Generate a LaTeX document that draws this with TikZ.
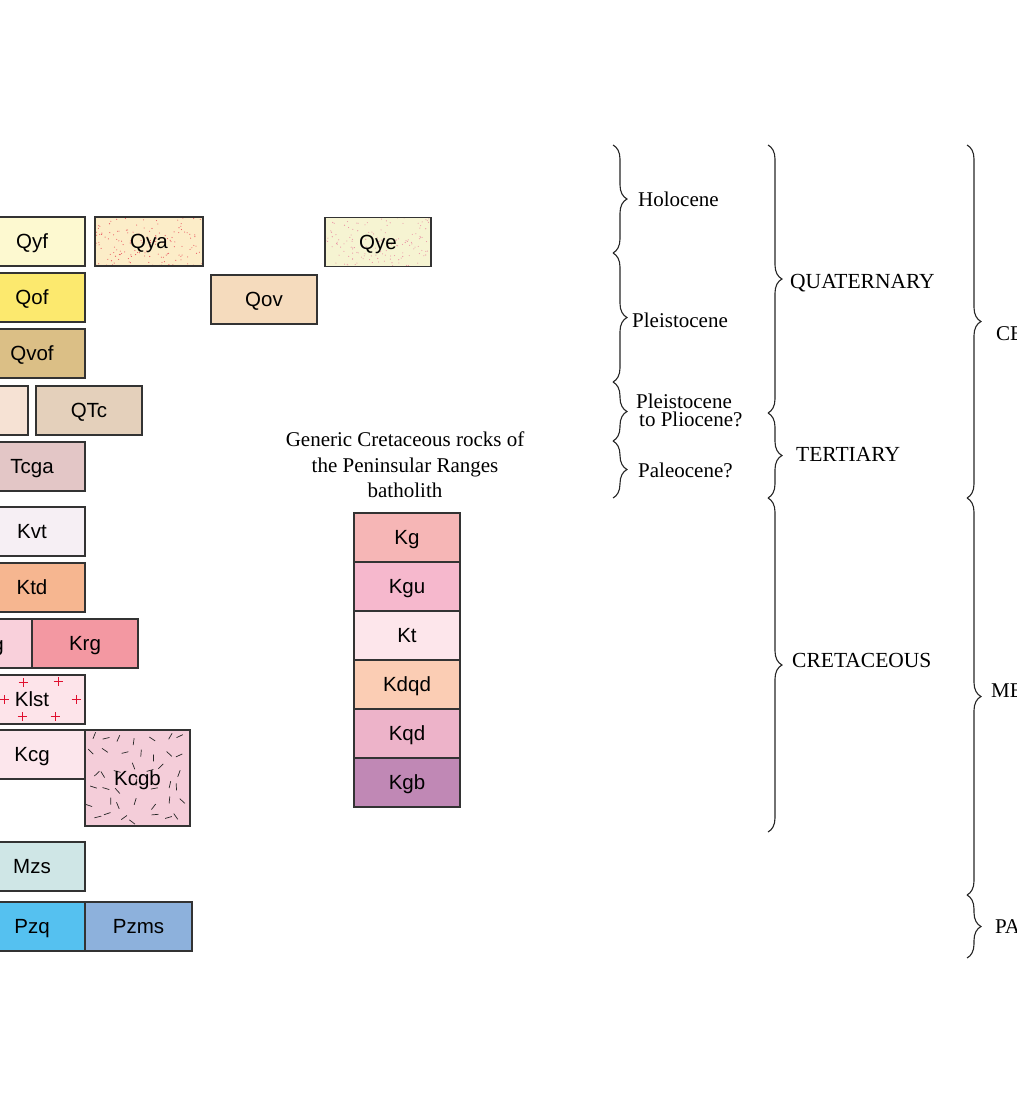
\documentclass[tikz,border=0pt]{standalone}
\usepackage{fontspec}
\setmainfont{Liberation Serif}
\setsansfont{Liberation Sans}
\usepackage{tikz}
\usetikzlibrary{positioning,calc,decorations.pathreplacing}

\definecolor{qyffill}{HTML}{FDF9D0}
\definecolor{qyafill}{HTML}{FCEDC8}
\definecolor{qyefill}{HTML}{F6F4D2}
\definecolor{qoffill}{HTML}{FCE96E}
\definecolor{qovfill}{HTML}{F5DBBD}
\definecolor{qvoffill}{HTML}{DBBF86}
\definecolor{qoafill}{HTML}{F6E2D4}
\definecolor{qtcfill}{HTML}{E4D0BB}
\definecolor{tcgafill}{HTML}{E3C6C6}
\definecolor{kvtfill}{HTML}{F6EFF4}
\definecolor{ktdfill}{HTML}{F6B690}
\definecolor{kpfill}{HTML}{F9D0DB}
\definecolor{krgfill}{HTML}{F398A2}
\definecolor{klstfill}{HTML}{FDE4EA}
\definecolor{kcgfill}{HTML}{FCE6EC}
\definecolor{kcgbfill}{HTML}{F4CDD9}
\definecolor{mzsfill}{HTML}{CFE6E6}
\definecolor{pzqfill}{HTML}{55C1F0}
\definecolor{pzmsfill}{HTML}{8DB1DC}
\definecolor{kgfill}{HTML}{F6B6B6}
\definecolor{kgufill}{HTML}{F6B8CD}
\definecolor{ktfill}{HTML}{FDE6EB}
\definecolor{kdqdfill}{HTML}{FBCDB4}
\definecolor{kqdfill}{HTML}{EDB3C9}
\definecolor{kgbfill}{HTML}{C088B5}
\definecolor{dotred}{HTML}{E8545E}
\definecolor{dotpink}{HTML}{EA8FA3}
\definecolor{plusred}{HTML}{E0102F}

\begin{document}
\begin{tikzpicture}[
    x=1pt, y=1pt,
    node distance=0pt,
    rockbox/.style={rectangle, draw=black!80, line width=1.1pt, outer sep=0pt, inner sep=0pt, minimum width=106pt, minimum height=49pt, text height=14.5pt, text depth=0pt, text centered, font=\sffamily\fontsize{20.5}{24}\selectfont},
    agelabel/.style={inner sep=0pt, anchor=base west, font=\fontsize{21}{24}\selectfont},
    agebrace/.style={decorate, decoration={brace, amplitude=14pt}, line width=1.1pt, draw=black!85},
    stipple/.style={path picture={
        \foreach \k in {1,...,150}
            \fill[#1] ($(path picture bounding box.south west)+(108*rnd,49*rnd)$) circle (0.55);
    }},
    crosses/.style={path picture={
        \foreach \cx/\cy in {-9/17.5, 26/18.5, -28/0.5, 44/0.5, -10/-16.5, 23/-16.5}
            \draw[plusred, line width=0.8pt] ($(path picture bounding box.center)+(\cx,\cy)$) +(-4.5,0) -- +(4.5,0) +(0,-4.5) -- +(0,4.5);
    }},
    ticks/.style={path picture={
        \foreach \i in {0,...,6}
            \foreach \j in {0,...,5}{
                \pgfmathsetmacro{\px}{8+14.5*\i+5*rand}
                \pgfmathsetmacro{\py}{8+16*\j+5*rand}
                \pgfmathsetmacro{\pa}{180*rnd}
                \draw[black!85, line width=0.7pt] ($(path picture bounding box.south west)+(\px,\py)$) ++(\pa+180:3.5) -- ++(\pa:7);
            }
    }}
]
    \pgfmathsetseed{11}
    \useasboundingbox (0,0) rectangle (1017,-1109);
    \clip (0,0) rectangle (1017,-1109);

    % map units, left side
    \node[rockbox, fill=qyffill] (qyf) at (32,-241.5) {Qyf};
    \node[rockbox, fill=qyafill, minimum width=108pt, stipple=dotred] (qya) at (149,-241.5) {Qya};
    \node[rockbox, fill=qyefill, stipple=dotpink] (qye) at (378,-242) {Qye};
    \node[rockbox, fill=qoffill] (qof) at (32,-297.5) {Qof};
    \node[rockbox, fill=qovfill] (qov) at (264,-299.5) {Qov};
    \node[rockbox, fill=qvoffill] (qvof) at (32,-353.5) {Qvof};
    \node[rockbox, fill=qoafill] (qoa) at (-25,-410.5) {};
    \node[rockbox, fill=qtcfill] (qtc) at (89,-410.5) {QTc};
    \node[rockbox, fill=tcgafill] (tcga) at (32,-466.5) {Tcga};
    \node[rockbox, fill=kvtfill] (kvt) at (32,-531.5) {Kvt};
    \node[rockbox, fill=ktdfill] (ktd) at (32,-587.5) {Ktd};
    \node[rockbox, fill=kpfill] (kp) at (-21,-643.5) {};
    \node[inner sep=0pt, anchor=base east, font=\sffamily\fontsize{20.5}{24}\selectfont] (kptext) at (4,-651) {g};
    \node[rockbox, fill=krgfill] (krg) at (85,-643.5) {Krg};
    \node[rockbox, fill=klstfill, crosses] (klst) at (32,-699.5) {Klst};
    \node[rockbox, fill=kcgfill] (kcg) at (32,-754.5) {Kcg};
    \node[rockbox, fill=kcgbfill, minimum width=105pt, minimum height=96pt, ticks] (kcgb) at (137.5,-778) {Kcgb};
    \node[rockbox, fill=mzsfill] (mzs) at (32,-866.5) {Mzs};
    \node[rockbox, fill=pzqfill] (pzq) at (32,-926.5) {Pzq};
    \node[rockbox, fill=pzmsfill, minimum width=107pt] (pzms) at (138.5,-926.5) {Pzms};

    % batholith column
    \node[align=center, font=\fontsize{21}{25.5}\selectfont] (generic) at (405,-465) {Generic Cretaceous rocks of\\the Peninsular Ranges\\batholith};
    \node[rockbox, fill=kgfill] (kg) at (407,-537.5) {Kg};
    \node[rockbox, fill=kgufill, below=of kg] (kgu) {Kgu};
    \node[rockbox, fill=ktfill, below=of kgu] (kt) {Kt};
    \node[rockbox, fill=kdqdfill, below=of kt] (kdqd) {Kdqd};
    \node[rockbox, fill=kqdfill, below=of kdqd] (kqd) {Kqd};
    \node[rockbox, fill=kgbfill, below=of kqd] (kgb) {Kgb};

    % epochs
    \coordinate (e0) at (613,-145);
    \coordinate (e1) at (613,-253);
    \coordinate (e2) at (613,-382);
    \coordinate (e3) at (613,-441);
    \coordinate (e4) at (613,-498);
    \draw[agebrace] (e0) -- (e1);
    \draw[agebrace] (e1) -- (e2);
    \draw[agebrace] (e2) -- (e3);
    \draw[agebrace] (e3) -- (e4);
    \node[agelabel] (holocene) at (638,-206) {Holocene};
    \node[agelabel] (pleistocene) at (632,-327) {Pleistocene};
    \node[agelabel] (pleistpl) at (636,-408) {Pleistocene};
    \node[agelabel] (topliocene) at (639,-426.5) {to Pliocene?};
    \node[agelabel] (paleocene) at (638,-477) {Paleocene?};

    % periods
    \coordinate (p0) at (768,-145);
    \coordinate (p1) at (768,-413);
    \coordinate (p2) at (768,-498);
    \coordinate (p3) at (768,-832);
    \draw[agebrace] (p0) -- (p1);
    \draw[agebrace] (p1) -- (p2);
    \draw[agebrace] (p2) -- (p3);
    \node[agelabel, font=\fontsize{21.5}{24}\selectfont] (quaternary) at (790,-288) {QUATERNARY};
    \node[agelabel, font=\fontsize{21.5}{24}\selectfont] (tertiary) at (796,-461) {TERTIARY};
    \node[agelabel, font=\fontsize{21.5}{24}\selectfont] (cretaceous) at (792,-667) {CRETACEOUS};

    % eras
    \coordinate (r0) at (967,-145);
    \coordinate (r1) at (967,-498);
    \coordinate (r2) at (967,-895);
    \coordinate (r3) at (967,-958);
    \draw[agebrace] (r0) -- (r1);
    \draw[agebrace] (r1) -- (r2);
    \draw[agebrace] (r2) -- (r3);
    \node[agelabel] (cenozoic) at (996,-340) {CE};
    \node[agelabel] (mesozoic) at (991,-697) {ME};
    \node[agelabel] (paleozoic) at (995,-933) {PA};
\end{tikzpicture}
\end{document}
